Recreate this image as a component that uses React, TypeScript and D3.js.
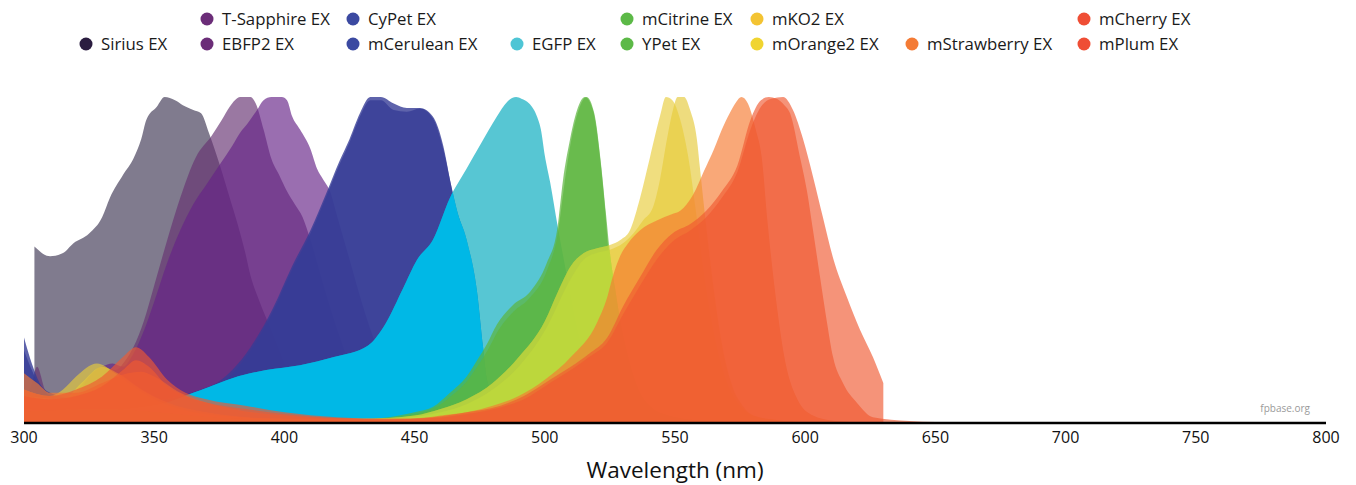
import React from 'react';
import * as d3 from 'd3';

const width = 1356;
const height = 485;

type Pt = [number, number];

// excitation spectra: [wavelength (nm), normalized value]
const siriusEx: Pt[] = [
  [304, 0.54], [310, 0.51], [315, 0.52], [319, 0.55], [325, 0.58], [330, 0.63], [333, 0.69],
  [338, 0.76], [342, 0.81], [345, 0.87], [347, 0.93], [351, 0.97], [354, 1.0], [358, 0.99],
  [361, 0.975], [365, 0.96], [368, 0.95], [371, 0.89], [374, 0.82], [376, 0.77], [379, 0.69],
  [382, 0.61], [385, 0.52], [387, 0.45], [390, 0.38], [393, 0.32], [397, 0.24], [400, 0.18],
  [405, 0.11], [410, 0.07], [415, 0.04], [420, 0.02], [430, 0.005], [440, 0],
];
const ebfp2Ex: Pt[] = [
  [300, 0.06], [303, 0.12], [305, 0.17], [308, 0.1], [312, 0.06], [318, 0.08], [325, 0.14],
  [330, 0.17], [335, 0.16], [339, 0.19], [342, 0.23], [346, 0.31], [350, 0.42], [355, 0.56],
  [360, 0.69], [366, 0.815], [372, 0.88], [376, 0.93], [379, 0.97], [381, 0.99], [383, 1.0],
  [387, 1.0], [389, 0.98], [392, 0.9], [395, 0.81], [398, 0.76], [401, 0.71], [404, 0.67],
  [407, 0.63], [410, 0.56], [415, 0.42], [420, 0.29], [425, 0.18], [430, 0.1], [440, 0.03],
  [450, 0.01], [460, 0],
];
const tSapphireEx: Pt[] = [
  [300, 0.05], [310, 0.05], [320, 0.08], [326, 0.15], [330, 0.17], [334, 0.18], [338, 0.17],
  [342, 0.21], [346, 0.28], [350, 0.37], [355, 0.49], [360, 0.59], [365, 0.67], [370, 0.73],
  [375, 0.79], [380, 0.85], [383, 0.89], [386, 0.92], [389.5, 0.96], [392, 0.99], [395, 1.0],
  [399, 1.0], [401, 0.99], [403, 0.94], [406, 0.9], [410, 0.84], [412.5, 0.78], [415, 0.745],
  [417.5, 0.71], [420, 0.64], [425, 0.5], [430, 0.36], [435, 0.24], [440, 0.15], [450, 0.05],
  [460, 0.015], [470, 0],
];
const mCeruleanEx: Pt[] = [
  [300, 0.22], [303, 0.16], [306, 0.11], [310, 0.08], [320, 0.06], [340, 0.05], [360, 0.07],
  [368, 0.09], [374, 0.11], [380, 0.15], [387, 0.22], [395.6, 0.34], [403, 0.47], [410, 0.58],
  [416.4, 0.7], [421, 0.79], [425, 0.86], [429, 0.94], [433, 0.99], [437, 0.99], [442, 0.96],
  [447, 0.955], [452, 0.965], [457, 0.935], [461, 0.84], [464, 0.73], [466, 0.66], [470, 0.55],
  [474, 0.39], [476.3, 0.22], [478, 0.12], [482, 0.05], [490, 0.015], [500, 0],
];
const cyPetEx: Pt[] = [
  [300, 0.26], [303, 0.18], [306, 0.12], [310, 0.09], [320, 0.07], [340, 0.06], [360, 0.08],
  [368, 0.1], [374, 0.12], [380, 0.16], [387, 0.23], [395.6, 0.35], [403, 0.48], [410, 0.59],
  [416.4, 0.71], [421, 0.8], [425, 0.87], [429, 0.95], [433, 1.0], [437, 1.0], [442, 0.98],
  [447, 0.966], [452, 0.966], [457, 0.94], [461, 0.85], [463.6, 0.745], [465.5, 0.67],
  [470, 0.56], [474, 0.4], [476.3, 0.23], [477.8, 0.13], [482, 0.06], [490, 0.02], [500, 0],
];
const egfpEx: Pt[] = [
  [300, 0.04], [320, 0.03], [340, 0.04], [355, 0.06], [365, 0.09], [371, 0.108], [380, 0.135],
  [393, 0.16], [406, 0.175], [419, 0.2], [432, 0.235], [439, 0.305], [445.5, 0.41], [451, 0.5],
  [457, 0.56], [463.6, 0.69], [470, 0.78], [475, 0.85], [481.6, 0.94], [485.5, 0.985],
  [489, 1.0], [491, 0.995], [494, 0.98], [497, 0.94], [498.5, 0.9], [500, 0.82], [502, 0.74],
  [505, 0.6], [508, 0.47], [512, 0.3], [516, 0.17], [520, 0.09], [525, 0.05], [530, 0.025],
  [540, 0.01], [550, 0],
];
const mCitrineEx: Pt[] = [
  [300, 0.03], [330, 0.04], [350, 0.03], [380, 0.01], [420, 0.005], [440, 0.015], [444, 0.02],
  [450, 0.03], [457, 0.046], [463.6, 0.09], [470, 0.14], [474, 0.19], [477.8, 0.24],
  [481.6, 0.3], [487.8, 0.36], [494.3, 0.4], [500.8, 0.49], [504.7, 0.59], [507, 0.745],
  [509.7, 0.87], [512.4, 0.96], [515.4, 1.0], [518.5, 0.96], [521.2, 0.815], [523.1, 0.66],
  [524.3, 0.54], [526, 0.44], [528, 0.34], [531, 0.22], [535, 0.11], [540, 0.05], [550, 0.015],
  [560, 0.005], [570, 0],
];
const yPetEx: Pt[] = [
  [300, 0.02], [330, 0.03], [350, 0.02], [380, 0.01], [420, 0.005], [440, 0.01], [450, 0.025],
  [457, 0.04], [464, 0.08], [470, 0.125], [474, 0.17], [478, 0.22], [482, 0.28], [488, 0.34],
  [494, 0.38], [501, 0.47], [505, 0.58], [507.5, 0.73], [510, 0.86], [513, 0.96], [516, 1.0],
  [519, 0.95], [521.5, 0.8], [523.5, 0.64], [525, 0.52], [527, 0.41], [529, 0.31], [532, 0.2],
  [536, 0.1], [541, 0.045], [550, 0.012], [560, 0.004], [570, 0],
];
const mKO2Ex: Pt[] = [
  [300, 0.08], [315, 0.07], [322, 0.12], [330, 0.17], [336, 0.15], [345, 0.1], [355, 0.06],
  [370, 0.03], [400, 0.01], [440, 0.01], [460, 0.03], [470, 0.055], [480, 0.1], [490, 0.17],
  [500, 0.28], [510, 0.44], [515, 0.5], [520, 0.52], [525, 0.53], [530, 0.55], [534, 0.58],
  [537.7, 0.62], [541.5, 0.66], [544.2, 0.745], [546.9, 0.87], [549.2, 0.96], [551, 1.0],
  [553.5, 1.0], [555.8, 0.96], [558.4, 0.87], [559.6, 0.78], [562, 0.6], [565, 0.4],
  [568, 0.24], [572, 0.11], [576, 0.05], [580, 0.02], [590, 0.005], [600, 0],
];
const mOrange2Ex: Pt[] = [
  [300, 0.1], [310, 0.08], [315, 0.1], [320, 0.14], [328, 0.18], [335, 0.15], [340, 0.12],
  [350, 0.07], [360, 0.04], [375, 0.02], [400, 0.01], [430, 0.01], [450, 0.02], [460, 0.04],
  [470, 0.07], [480, 0.12], [490, 0.2], [500, 0.31], [505, 0.4], [510, 0.48], [515, 0.52],
  [520, 0.535], [525, 0.545], [529, 0.56], [532.7, 0.59], [536.6, 0.69], [540.4, 0.815],
  [544.2, 0.94], [546.5, 1.0], [549, 0.99], [552, 0.93], [555, 0.82], [558, 0.65], [561, 0.46],
  [565, 0.27], [570, 0.12], [575, 0.05], [580, 0.02], [590, 0.005], [600, 0],
];
const mStrawberryEx: Pt[] = [
  [300, 0.15], [305, 0.12], [310, 0.09], [320, 0.09], [330, 0.12], [340, 0.15], [345, 0.155],
  [350, 0.14], [360, 0.09], [370, 0.06], [380, 0.04], [400, 0.02], [430, 0.01], [450, 0.01],
  [460, 0.02], [470, 0.03], [480, 0.05], [490, 0.08], [500, 0.13], [510, 0.2], [520, 0.305],
  [524, 0.385], [526.2, 0.45], [528.9, 0.51], [532, 0.55], [536.6, 0.59], [543, 0.62],
  [549, 0.64], [552, 0.65], [557, 0.7], [561, 0.77], [565, 0.84], [568, 0.9], [571, 0.95],
  [573.5, 0.985], [575.5, 1.0], [578, 0.98], [581, 0.9], [583.3, 0.815], [585.6, 0.61],
  [588.3, 0.41], [592, 0.2], [597, 0.07], [603, 0.02], [610, 0.005], [620, 0],
];
const mCherryEx: Pt[] = [
  [300, 0.1], [310, 0.08], [320, 0.1], [330, 0.14], [338, 0.2], [343, 0.23], [348, 0.2],
  [355, 0.13], [362, 0.09], [370, 0.07], [385, 0.05], [400, 0.03], [420, 0.015], [440, 0.01],
  [457, 0.015], [470, 0.03], [483, 0.05], [492, 0.08], [502, 0.13], [510, 0.17], [517, 0.21],
  [524, 0.26], [530, 0.355], [536.6, 0.446], [543, 0.53], [549, 0.58], [556, 0.61], [562, 0.65],
  [568, 0.71], [574, 0.79], [579, 0.93], [583, 0.99], [586, 1.0], [589, 0.995], [592, 0.975],
  [594.2, 0.95], [598, 0.815], [600.7, 0.71], [603, 0.59], [605.7, 0.446], [608.4, 0.305],
  [610.7, 0.2], [614.5, 0.12], [620, 0.058], [626, 0.015], [640, 0.003], [650, 0],
];
const mPlumEx: Pt[] = [
  [300, 0.08], [310, 0.07], [320, 0.08], [330, 0.11], [338, 0.16], [343, 0.19], [348, 0.17],
  [355, 0.11], [362, 0.08], [370, 0.06], [385, 0.04], [400, 0.025], [420, 0.012], [440, 0.008],
  [457, 0.012], [470, 0.025], [483, 0.045], [492, 0.07], [502, 0.12], [510, 0.16], [517, 0.2],
  [524, 0.245], [530, 0.33], [536.6, 0.42], [543, 0.5], [549, 0.555], [556, 0.59], [562, 0.63],
  [568, 0.69], [574, 0.77], [579, 0.9], [583, 0.97], [587, 0.995], [591.5, 1.0], [595.3, 0.96],
  [599.2, 0.87], [603, 0.755], [606.8, 0.63], [610.7, 0.505], [616, 0.385], [621, 0.285],
  [626, 0.2], [630, 0.12],
];

const seriesNames = [
  'Sirius EX', 'EBFP2 EX', 'T-Sapphire EX', 'mCerulean EX', 'CyPet EX', 'EGFP EX',
  'mCitrine EX', 'YPet EX', 'mKO2 EX', 'mOrange2 EX', 'mStrawberry EX', 'mCherry EX', 'mPlum EX',
];
const seriesData = [
  siriusEx, ebfp2Ex, tSapphireEx, mCeruleanEx, cyPetEx, egfpEx,
  mCitrineEx, yPetEx, mKO2Ex, mOrange2Ex, mStrawberryEx, mCherryEx, mPlumEx,
];
const xTicks = [300, 350, 400, 450, 500, 550, 600, 650, 700, 750, 800];

// styles
const fills = [
  '#2b2342', '#663272', '#662387', '#363c96', '#363c96', '#10aec0',
  '#5db63e', '#5db63e', '#e5c939', '#e8cd3a', '#f67a30', '#f05931', '#f05931',
];
const opacities = [0.6, 0.66, 0.66, 0.8, 0.8, 0.7, 0.72, 0.72, 0.65, 0.65, 0.65, 0.65, 0.65];
const dotColors = [
  '#2b1d40', '#6b2d78', '#6b2d78', '#3b49a1', '#3b49a1', '#4ec5d5',
  '#5cb947', '#5cb947', '#f3c332', '#f0d430', '#f47b35', '#ef4e35', '#ef4e35',
];
// legend grid: column x of each dot, and which column/row each series sits in
const legendColX = [86, 207, 353, 517, 627, 757, 912, 1084];
const legendCol = [0, 1, 1, 2, 2, 3, 4, 4, 5, 5, 6, 7, 7];
const legendRow = [1, 1, 0, 1, 0, 1, 0, 1, 0, 1, 1, 0, 1];
const legendRowY = [19, 44];

const font = "'Open Sans', sans-serif";

export default function App() {
  const x = d3.scaleLinear().domain([300, 800]).range([24, 1326]);
  const y = d3.scaleLinear().domain([0, 1]).range([422, 97]);
  const area = d3
    .area<Pt>()
    .x(d => x(d[0]))
    .y0(y(0))
    .y1(d => y(d[1]))
    .curve(d3.curveMonotoneX);

  const path = (d: Pt[]) => area(d) || '';

  return (
    <svg
      width={width}
      height={height}
      style={{ position: 'absolute', left: 0, top: 0, background: '#fff' }}
      fontFamily={font}
    >
      <defs>
        <clipPath id="blueClip">
          <path d={path(mCeruleanEx)} />
          <path d={path(cyPetEx)} />
        </clipPath>
        <clipPath id="greenClip">
          <path d={path(mCitrineEx)} />
          <path d={path(yPetEx)} />
        </clipPath>
      </defs>
      <g>
        {seriesData.map((d, i) => (
          <React.Fragment key={seriesNames[i]}>
            <path d={path(d)} fill={fills[i]} fillOpacity={opacities[i]} />
            {seriesNames[i] === 'EGFP EX' && (
              <path d={path(d)} fill="#00b8e6" clipPath="url(#blueClip)" />
            )}
            {seriesNames[i] === 'mOrange2 EX' && (
              <g clipPath="url(#greenClip)">
                <path d={path(mKO2Ex)} fill="#b4dc3c" fillOpacity={0.5} />
                <path d={path(mOrange2Ex)} fill="#b4dc3c" fillOpacity={0.5} />
              </g>
            )}
          </React.Fragment>
        ))}
      </g>
      <line x1={x(300)} x2={x(800)} y1={423} y2={423} stroke="#000" strokeWidth={2.5} />
      <g fontSize={16} fill="#111" textAnchor="middle">
        {xTicks.map(t => (
          <text key={t} x={x(t)} y={443}>
            {t}
          </text>
        ))}
      </g>
      <text x={(x(300) + x(800)) / 2} y={478} fontSize={22.5} textAnchor="middle" fill="#111">
        Wavelength (nm)
      </text>
      <text x={1310} y={412} fontSize={10} textAnchor="end" fill="#9a9a9a">
        fpbase.org
      </text>
      <g fontSize={16.8} fill="#1a1a1a">
        {seriesNames.map((name, i) => {
          const cx = legendColX[legendCol[i]];
          const cy = legendRowY[legendRow[i]];
          return (
            <g key={name}>
              <circle cx={cx} cy={cy} r={6.5} fill={dotColors[i]} />
              <text x={cx + 15} y={cy + 6}>
                {name}
              </text>
            </g>
          );
        })}
      </g>
    </svg>
  );
}
